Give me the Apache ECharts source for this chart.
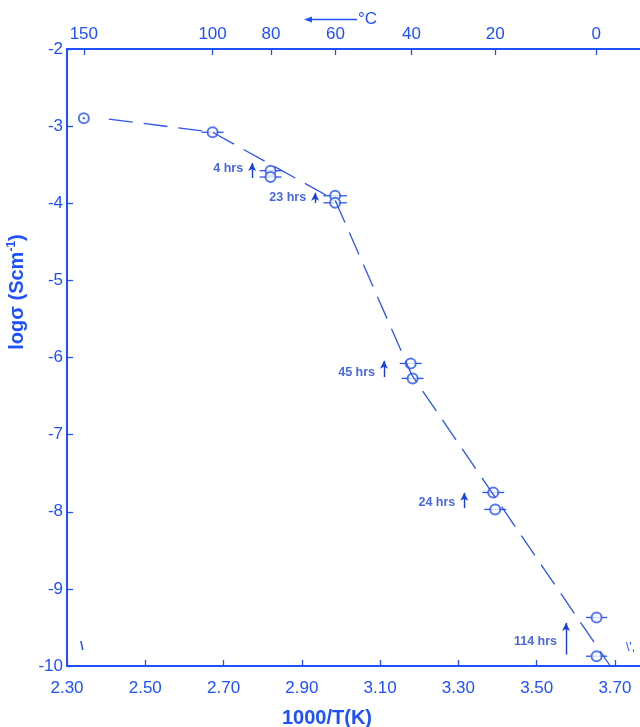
<!DOCTYPE html>
<html><head><meta charset="utf-8">
<script src="https://cdn.jsdelivr.net/npm/echarts@6/dist/echarts.min.js"></script>
<style>html,body{margin:0;padding:0;background:#fff}#c{width:640px;height:727px}</style>
</head><body><div id="c"></div>
<script>
// ---- data ----
const xTickValues = [2.30, 2.50, 2.70, 2.90, 3.10, 3.30, 3.50, 3.70];
const topTickPositions = [2.343, 2.672, 2.821, 2.986, 3.180, 3.394, 3.652];
const topTickLabels = ['150', '100', '80', '60', '40', '20', '0'];
const pointX = [2.672, 2.820, 2.820, 2.985, 2.985, 3.178, 3.183, 3.389, 3.394, 3.653, 3.653];
const pointY = [-3.080, -3.578, -3.660, -3.903, -3.994, -6.077, -6.271, -7.750, -7.970, -9.371, -9.873];
const pointXErr = [0.028, 0.028, 0.028, 0.030, 0.030, 0.028, 0.028, 0.028, 0.028, 0.027, 0.027];
const dotPointX = [2.343];
const dotPointY = [-2.899];
const fitX = [2.407, 2.672, 2.985, 3.181, 3.688];
const fitY = [-2.908, -3.080, -3.959, -6.228, -10.0];
const annoLabels = ['4 hrs', '23 hrs', '45 hrs', '24 hrs', '114 hrs'];
const annoX = [2.773, 2.934, 3.110, 3.315, 3.575];
const annoArrowFrom = [-3.673, -3.997, -6.254, -7.953, -9.852];
const annoArrowTo = [-3.479, -3.864, -6.043, -7.755, -9.441];
const annoTextY = [-3.547, -3.924, -6.198, -7.879, -9.687];

const AX = '#1f50ff';
const MK = '#2a55ee';
const TX = '#1a40d8';
const FF = 'Liberation Sans, Arial, sans-serif';

const chart = echarts.init(document.getElementById('c'), null, {renderer: 'canvas'});

const errData = pointX.map((x, i) => [x, pointY[i], pointXErr[i]]);
const ptData = pointX.map((x, i) => [x, pointY[i]]);
const fitData = fitX.map((x, i) => [x, fitY[i]]);
const dotData = dotPointX.map((x, i) => [x, dotPointY[i]]);
const arrowLines = annoX.map((x, i) => [{coord: [x, annoArrowFrom[i]]}, {coord: [x, annoArrowTo[i]]}]);
const annoData = annoX.map((x, i) => ({value: [x, annoTextY[i]], name: annoLabels[i]}));

const option = {
  animation: false,
  backgroundColor: '#fff',
  grid: {left: 67, right: 0, top: 49, bottom: 61, containLabel: false, outerBoundsMode: 'none'},
  xAxis: [{
    type: 'value', position: 'bottom', min: 2.30, max: 3.764,
    axisLine: {show: true, lineStyle: {color: AX, width: 2}},
    axisTick: {show: true, inside: true, length: 6, customValues: xTickValues, lineStyle: {color: AX, width: 1.3}},
    axisLabel: {customValues: xTickValues, formatter: v => v.toFixed(2), color: AX, fontSize: 17, fontFamily: FF, margin: 14},
    splitLine: {show: false},
    name: '1000/T(K)', nameLocation: 'middle', nameGap: 42,
    nameTextStyle: {color: AX, fontSize: 20, fontWeight: 'bold', fontFamily: FF, padding: [0, 53, 0, 0]}
  }, {
    type: 'value', position: 'top', min: 2.30, max: 3.764,
    axisLine: {show: true, lineStyle: {color: AX, width: 2}},
    axisTick: {show: true, inside: true, length: 6, customValues: topTickPositions, lineStyle: {color: AX, width: 1.3}},
    axisLabel: {
      customValues: topTickPositions, color: AX, fontSize: 17, fontFamily: FF, margin: 6,
      formatter: v => {
        let best = 0;
        topTickPositions.forEach((p, i) => { if (Math.abs(p - v) < Math.abs(topTickPositions[best] - v)) best = i; });
        return topTickLabels[best];
      }
    },
    splitLine: {show: false}
  }],
  yAxis: {
    type: 'value', min: -10, max: -2, interval: 1,
    axisLine: {show: true, lineStyle: {color: AX, width: 2}},
    axisTick: {show: true, inside: true, length: 6, lineStyle: {color: AX, width: 1.3}},
    axisLabel: {color: AX, fontSize: 17, fontFamily: FF, margin: 4},
    splitLine: {show: false},
    name: '{a|logσ (Scm}{s|-1}{a|)}', nameLocation: 'middle', nameGap: 30, nameRotate: 90,
    nameTextStyle: {
      padding: [0, 0, 0, 131],
      rich: {
        a: {color: AX, fontSize: 20, fontWeight: 'bold', fontFamily: FF, lineHeight: 24},
        s: {color: AX, fontSize: 12, fontWeight: 'bold', fontFamily: FF, verticalAlign: 'top', lineHeight: 24, padding: [0, 0, 10, 0]}
      }
    }
  },
  series: [{
    type: 'line', data: fitData, symbol: 'none', silent: true,
    lineStyle: {color: MK, width: 1.3, type: [24, 11]}
  }, {
    type: 'custom', data: errData,
    renderItem: (params, api) => {
      const x = api.value(0), y = api.value(1), e = api.value(2);
      const p1 = api.coord([x - e, y]), p2 = api.coord([x + e, y]);
      return {type: 'line', shape: {x1: p1[0], y1: p1[1], x2: p2[0], y2: p2[1]}, style: {stroke: MK, lineWidth: 1.3}};
    }
  }, {
    type: 'scatter', data: ptData, symbol: 'emptyCircle', symbolSize: 10,
    itemStyle: {color: MK, borderColor: MK, borderWidth: 1.3}
  }, {
    type: 'scatter', data: dotData, symbol: 'emptyCircle', symbolSize: 10,
    itemStyle: {color: MK, borderColor: MK, borderWidth: 1.2}
  }, {
    type: 'scatter', data: dotData, symbol: 'circle', symbolSize: 2.5,
    itemStyle: {color: MK}
  }, {
    type: 'scatter', data: annoData, symbolSize: 0, silent: true,
    label: {show: true, position: 'left', distance: 9, formatter: p => p.name, color: TX, fontSize: 12.5, fontWeight: 'bold', fontFamily: FF},
    markLine: {
      silent: true, symbol: ['none', 'arrow'], symbolSize: [6, 8],
      lineStyle: {color: TX, width: 1.4, type: 'solid'}, label: {show: false},
      data: arrowLines
    }
  }],
  graphic: [
    {type: 'line', shape: {x1: 309, y1: 19.5, x2: 357, y2: 19.5}, style: {stroke: AX, lineWidth: 1.3}},
    {type: 'polygon', shape: {points: [[304, 19.5], [312, 16.5], [312, 22.5]]}, style: {fill: AX}},
    {type: 'text', x: 358, y: 19.5, style: {text: '°C', fill: AX, font: '17px ' + FF, textVerticalAlign: 'middle'}},
    {type: 'text', x: 80, y: 640, rotation: 0, style: {text: '\\', fill: AX, font: 'bold 13px ' + FF}},
    {type: 'text', x: 626, y: 642, style: {text: '\\\',', fill: AX, font: '12px ' + FF}}
  ]
};
chart.setOption(option);
</script></body></html>
